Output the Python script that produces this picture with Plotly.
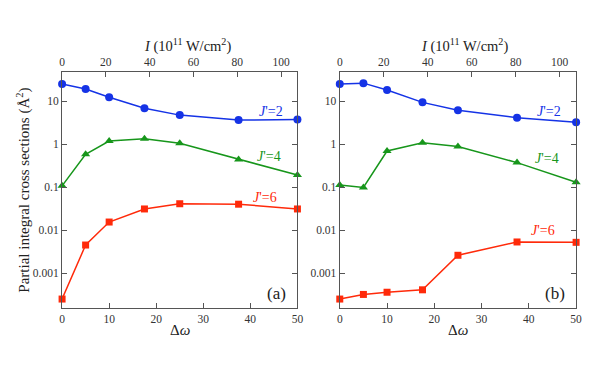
import plotly.graph_objects as go

# ---- data ----
dw = [0, 5, 10, 17.5, 25, 37.5, 50]

a_j2 = [24.8, 19.0, 12.2, 6.8, 4.7, 3.6, 3.7]
a_j4 = [0.107, 0.58, 1.17, 1.33, 1.04, 0.44, 0.19]
a_j6 = [0.00025, 0.0045, 0.0154, 0.031, 0.041, 0.040, 0.031]

b_j2 = [24.8, 26.0, 18.0, 9.3, 6.1, 4.1, 3.2]
b_j4 = [0.111, 0.098, 0.69, 1.07, 0.88, 0.37, 0.13]
b_j6 = [0.00025, 0.00032, 0.00036, 0.00041, 0.0026, 0.0053, 0.0052]

y_tickvals = [10, 1, 0.1, 0.01, 0.001]
y_ticktext = ["10", "1", "0.1", "0.01", "0.001"]
x_ticks = [0, 10, 20, 30, 40, 50]
top_ticks = [0, 20, 40, 60, 80, 100]

BLUE = "#1533e6"
GREEN = "#17961b"
RED = "#ff2a0a"
AX = "#555555"
FONT = "Liberation Serif"

W, H = 589, 366
def px(x): return x / W
def py(y): return 1 - y / H

fig = go.Figure()

series = [
    ("x", "y", a_j2, BLUE, "circle", 8),
    ("x", "y", a_j4, GREEN, "triangle-up", 8),
    ("x", "y", a_j6, RED, "square", 7),
    ("x2", "y2", b_j2, BLUE, "circle", 8),
    ("x2", "y2", b_j4, GREEN, "triangle-up", 8),
    ("x2", "y2", b_j6, RED, "square", 7),
]
for xa, ya, vals, col, sym, sz in series:
    fig.add_trace(go.Scatter(
        x=dw, y=vals, xaxis=xa, yaxis=ya, mode="lines+markers",
        line=dict(color=col, width=1.5),
        marker=dict(symbol=sym, size=sz, color=col),
        cliponaxis=False, showlegend=False))

yrange = [-3.81, 1.674]
dom1 = [px(60), px(299)]
dom2 = [px(342), px(582)]
ydom = [py(308), py(72)]

tf = dict(family=FONT, size=11.5, color="#333")
common_x = dict(range=[0, 50], tickvals=x_ticks, ticks="inside", ticklen=5,
                showline=True, linecolor=AX, linewidth=1.3, tickcolor=AX,
                showgrid=False, zeroline=False, tickfont=tf)
common_top = dict(range=[0, 107.5], tickvals=top_ticks, ticks="inside", ticklen=5,
                  side="top", showline=True, linecolor=AX, linewidth=1.3, tickcolor=AX,
                  showgrid=False, zeroline=False, tickfont=tf)
common_y = dict(type="log", range=yrange, tickvals=y_tickvals, ticktext=y_ticktext,
                ticks="inside", ticklen=5, mirror="ticks", showline=True,
                linecolor=AX, linewidth=1.3, tickcolor=AX, showgrid=False,
                zeroline=False, domain=ydom, tickfont=tf)

fig.update_layout(
    width=W, height=H, margin=dict(l=0, r=0, t=0, b=0),
    paper_bgcolor="white", plot_bgcolor="white",
    font=dict(family=FONT),
    xaxis=dict(domain=dom1, anchor="y", **common_x),
    xaxis2=dict(domain=dom2, anchor="y2", **common_x),
    xaxis3=dict(overlaying="x", anchor="y", **common_top),
    xaxis4=dict(overlaying="x2", anchor="y2", **common_top),
    yaxis=dict(anchor="x", **common_y),
    yaxis2=dict(anchor="x2", **common_y),
)

# invisible traces to ensure top axes are drawn
fig.add_trace(go.Scatter(x=[None], y=[None], xaxis="x3", yaxis="y", showlegend=False, hoverinfo="skip"))
fig.add_trace(go.Scatter(x=[None], y=[None], xaxis="x4", yaxis="y2", showlegend=False, hoverinfo="skip"))

ann = []
def A(x, y, text, size=14, color="#222", **kw):
    ann.append(dict(x=px(x), y=py(y), xref="paper", yref="paper", text=text,
                    xanchor="center", yanchor="middle",
                    showarrow=False, font=dict(family=FONT, size=size, color=color), **kw))

for x0 in (0, 282):
    A(272 + x0, 111, "<i>J</i>'=2", color=BLUE)
    A(270 + x0, 157 + (2 if x0 else 0), "<i>J</i>'=4", color=GREEN)
    A(266 + x0, 197 + (33 if x0 else 0), "<i>J</i>'=6", color=RED)

A(278, 293, "(a)", size=17)
A(561, 293, "(b)", size=17)
A(180, 330, "Δ<i>ω</i>", size=15)
A(462, 330, "Δ<i>ω</i>", size=15)
A(187, 45, "<i>I</i> (10<sup>11</sup> W/cm<sup>2</sup>)", size=14.5)
A(469, 45, "<i>I</i> (10<sup>11</sup> W/cm<sup>2</sup>)", size=14.5)
A(20, 190, "Partial integral cross sections (Å<sup>2</sup>)", size=15, textangle=-90)

fig.update_layout(annotations=ann)
fig.write_html("out.html", config={"displayModeBar": False},
               post_script="document.body.style.margin='0';document.body.style.padding='0';")
